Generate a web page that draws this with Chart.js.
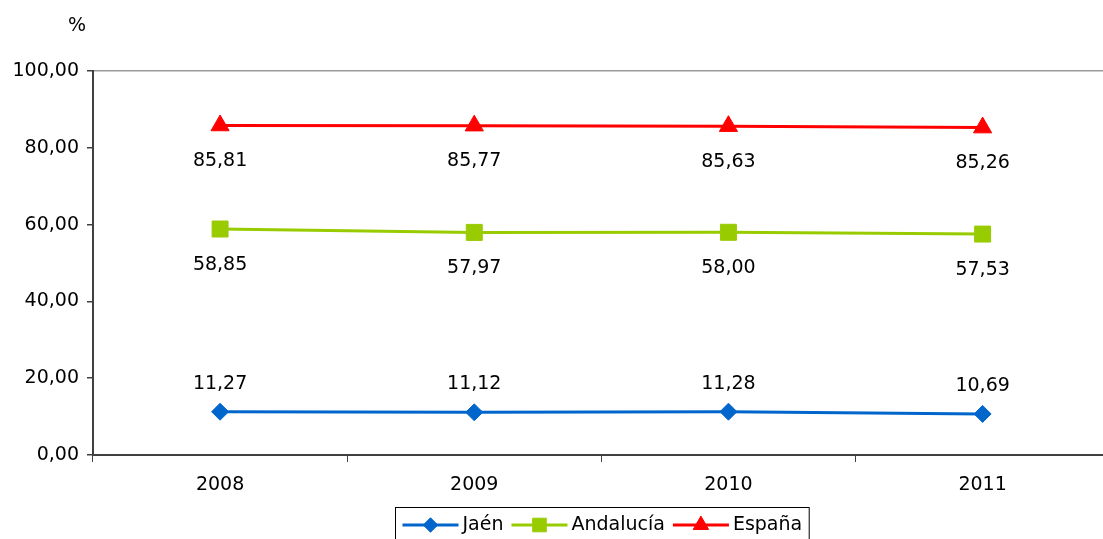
<!DOCTYPE html>
<html><head><meta charset="utf-8">
<script src="https://cdn.jsdelivr.net/npm/chart.js@4"></script>
<style>html,body{margin:0;padding:0;overflow:hidden;background:#fff}#wrap{width:1122px;height:539px;position:relative}canvas{display:block}</style>
</head><body><div id="wrap"><canvas id="c" width="1122" height="539" style="width:1122px;height:539px"></canvas></div>
<script>
const categories = ['2008', '2009', '2010', '2011'];
const jaen = [11.27, 11.12, 11.28, 10.69];
const andalucia = [58.85, 57.97, 58.00, 57.53];
const espana = [85.81, 85.77, 85.63, 85.26];
const seriesNames = ['Jaén', 'Andalucía', 'España'];
const unitLabel = '%';

const FONT = {family: '"DejaVu Sans", Verdana, sans-serif', size: 19};
const fmt = v => v.toFixed(2).replace('.', ',');

const labelPlugin = {
  id: 'vlabels',
  afterDatasetsDraw(chart) {
    const ctx = chart.ctx;
    ctx.save();
    ctx.font = FONT.size + 'px ' + FONT.family;
    ctx.fillStyle = '#000';
    ctx.textAlign = 'center';
    ctx.textBaseline = 'alphabetic';
    chart.data.datasets.forEach((ds, i) => {
      const meta = chart.getDatasetMeta(i);
      meta.data.forEach((pt, j) => {
        ctx.fillText(fmt(ds.data[j]), pt.x, pt.y + ds.labelOffset + 7);
      });
    });
    ctx.restore();
  }
};

const extrasPlugin = {
  id: 'extras',
  afterDraw(chart) {
    const ctx = chart.ctx;
    ctx.save();
    ctx.font = FONT.size + 'px ' + FONT.family;
    ctx.fillStyle = '#000';
    ctx.textAlign = 'center';
    ctx.textBaseline = 'middle';
    ctx.fillText(unitLabel, 77, 26);
    // custom legend (line + marker)
    const lineLen = 56, gapText = 4, gapItem = 8, padX = 7;
    const items = chart.data.datasets.map(ds => ({ds, w: ctx.measureText(ds.label).width}));
    let total = padX * 2;
    items.forEach((it, k) => { total += lineLen + gapText + it.w + (k < items.length - 1 ? gapItem : 0); });
    const cx = 602;
    const boxL = Math.round(cx - total / 2) + 0.5;
    const boxT = 507.5;
    ctx.strokeStyle = '#000';
    ctx.lineWidth = 1;
    ctx.strokeRect(boxL, boxT, total, 60);
    let x = boxL + padX;
    const y = 525;
    ctx.textAlign = 'left';
    items.forEach(it => {
      const ds = it.ds;
      ctx.strokeStyle = ds.borderColor;
      ctx.lineWidth = 3;
      ctx.beginPath();
      ctx.moveTo(x, y);
      ctx.lineTo(x + lineLen, y);
      ctx.stroke();
      ctx.fillStyle = ds.pointBackgroundColor;
      ctx.strokeStyle = ds.pointBorderColor;
      ctx.lineWidth = 1;
      Chart.helpers.drawPoint(ctx, {pointStyle: ds.pointStyle, radius: ds.pointRadius * 0.85, borderWidth: 1, rotation: 0}, x + lineLen / 2, y);
      ctx.fillStyle = '#000';
      ctx.fillText(ds.label, x + lineLen + gapText, y);
      x += lineLen + gapText + it.w + gapItem;
    });
    ctx.restore();
  }
};

const mk = (label, data, color, style, radius, offset) => ({
  label, data,
  borderColor: color, backgroundColor: color,
  pointBackgroundColor: color, pointBorderColor: color,
  pointStyle: style, pointRadius: radius, pointHoverRadius: radius,
  borderWidth: 3, pointBorderWidth: 1, tension: 0, fill: false,
  labelOffset: offset
});

new Chart(document.getElementById('c'), {
  type: 'line',
  data: {
    labels: categories,
    datasets: [
      mk(seriesNames[0], jaen, '#0066CC', 'rectRot', 8.5, -30),
      mk(seriesNames[1], andalucia, '#99CC00', 'rect', 11.3, 33.5),
      mk(seriesNames[2], espana, '#FF0000', 'triangle', 10.5, 33.5)
    ]
  },
  options: {
    responsive: false,
    maintainAspectRatio: false,
    animation: false,
    devicePixelRatio: 1,
    layout: {padding: {top: 71, left: 0, right: 3, bottom: 0}},
    plugins: {legend: {display: false}, tooltip: {enabled: false}, title: {display: false}},
    scales: {
      x: {
        type: 'category',
        offset: true,
        afterFit(s) { s.height = 84; },
        grid: {offset: true, drawOnChartArea: false, tickLength: 7, color: '#404040', lineWidth: 1},
        border: {color: '#404040', width: 2},
        ticks: {color: '#000', font: FONT, padding: 12, maxRotation: 0, autoSkip: false}
      },
      y: {
        min: 0, max: 100,
        afterFit(s) { s.width = 93; },
        ticks: {stepSize: 20, color: '#000', font: FONT, padding: 8, callback: v => fmt(v)},
        grid: {
          drawOnChartArea: true,
          tickLength: 6,
          color: c => (c.tick && c.tick.value === 100) ? '#999999' : 'rgba(0,0,0,0)',
          tickColor: '#404040',
          lineWidth: 1.5
        },
        border: {color: '#404040', width: 2}
      }
    }
  },
  plugins: [labelPlugin, extrasPlugin]
});
</script></body></html>
